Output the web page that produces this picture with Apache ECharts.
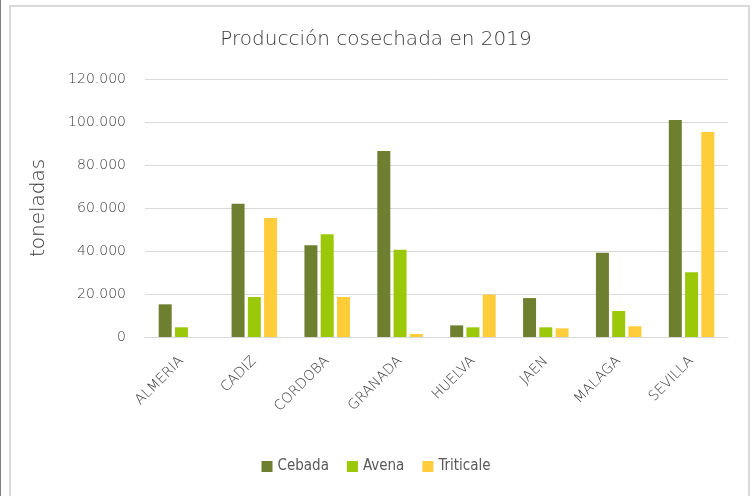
<!DOCTYPE html>
<html>
<head>
<meta charset="utf-8">
<script src="https://cdn.jsdelivr.net/npm/echarts@6/dist/echarts.min.js"></script>
<style>
  html, body { margin: 0; padding: 0; background: #fff; }
  #main { width: 752px; height: 496px; }
</style>
</head>
<body>
<div id="main"></div>
<script>
// datos
var provincias = ['ALMERIA', 'CADIZ', 'CORDOBA', 'GRANADA', 'HUELVA', 'JAEN', 'MALAGA', 'SEVILLA'];
var cebada    = [15200, 62000, 42700, 86500,  5400, 18100, 39200, 100900];
var avena     = [ 4500, 18600, 47800, 40600,  4500,  4500, 12100,  30100];
var triticale = [    0, 55400, 18600,  1400, 19700,  4000,  5000,  95300];

var chart = echarts.init(document.getElementById('main'));
var gris = '#595959';
var grisFino = '#3a3a3a';   // mas oscuro para compensar el trazo fino
var fuente = "'DejaVu Sans', sans-serif";
var fino = 200;

function miles(v) {
    return String(v).replace(/\B(?=(\d{3})+(?!\d))/g, '.');
}

var option = {
    animation: false,
    backgroundColor: '#fff',
    title: {
        text: 'Producción cosechada en 2019',
        left: 'center',
        top: 25,
        textStyle: { color: grisFino, fontSize: 20, fontWeight: fino, fontFamily: fuente }
    },
    legend: {
        data: ['Cebada', 'Avena', 'Triticale'],
        bottom: 17,
        left: 'center',
        itemWidth: 11,
        itemHeight: 11,
        itemGap: 18,
        icon: 'rect',
        textStyle: { color: gris, fontSize: 15, fontFamily: "'DejaVu Sans Condensed', Roboto, sans-serif" }
    },
    graphic: [
        { type: 'line', shape: { x1: 0.5, y1: 0, x2: 0.5, y2: 496 }, style: { stroke: '#808080', lineWidth: 1 } },
        { type: 'rect', shape: { x: 10, y: 6, width: 739, height: 500 }, style: { fill: 'none', stroke: '#d9d9d9', lineWidth: 2 } }
    ],
    grid: { left: 145, right: 24, top: 79, bottom: 159 },
    xAxis: {
        type: 'category',
        data: provincias,
        axisLine: { lineStyle: { color: '#d9d9d9', width: 1 } },
        axisTick: { show: false },
        axisLabel: { rotate: 45, color: grisFino, fontSize: 14, fontWeight: fino, fontFamily: fuente, margin: 22 }
    },
    yAxis: {
        type: 'value',
        min: 0,
        max: 120000,
        interval: 20000,
        name: 'toneladas',
        nameLocation: 'middle',
        nameGap: 96,
        nameTextStyle: { color: grisFino, fontSize: 20, fontWeight: fino, fontFamily: fuente },
        axisLine: { show: false },
        axisTick: { show: false },
        splitLine: { lineStyle: { color: '#d9d9d9', width: 1 } },
        axisLabel: { color: grisFino, fontSize: 14, fontWeight: fino, fontFamily: fuente, margin: 19, formatter: miles }
    },
    series: [
        { name: 'Cebada', type: 'bar', data: cebada, barWidth: 13, barGap: '25%', itemStyle: { color: '#6e7f30' } },
        { name: 'Avena', type: 'bar', data: avena, barWidth: 13, barGap: '25%', itemStyle: { color: '#9bc90a' } },
        { name: 'Triticale', type: 'bar', data: triticale, barWidth: 13, barGap: '25%', itemStyle: { color: '#ffcc3a' } }
    ]
};

chart.setOption(option);
</script>
</body>
</html>
